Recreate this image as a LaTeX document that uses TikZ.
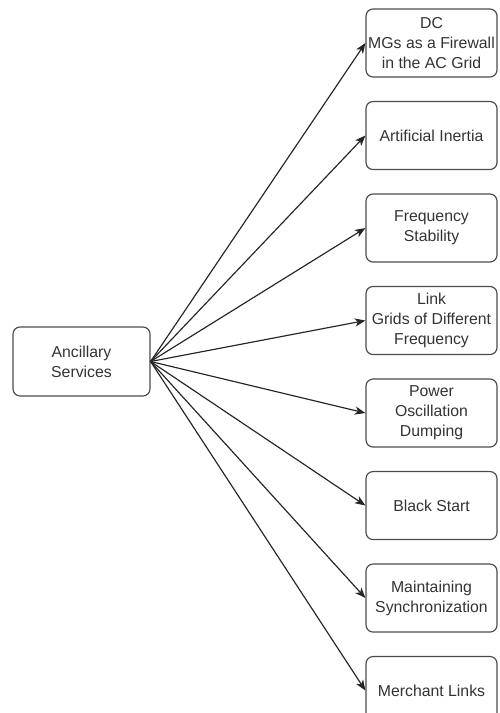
\documentclass[tikz,border=0pt]{standalone}
\usepackage{fontspec}
\setmainfont{Liberation Sans}
\usepackage{xcolor}
\usetikzlibrary{arrows.meta,positioning}

\begin{document}
\begin{tikzpicture}[
      x=0.03cm, y=-0.03cm,
      >={Stealth[length=9pt, width=7pt, inset=2.5pt]},
      box/.style={draw=black!70, rounded corners=6pt, line width=1pt,
        minimum width=3.93cm, minimum height=2.04cm, inner sep=1pt,
        align=center, text=black!80,
        font=\fontsize{13.5}{17}\selectfont},
      link/.style={->, line width=1pt, black!85}
    ]
    \useasboundingbox (0,0) rectangle (499,713);

    \node[box, minimum width=4.11cm, minimum height=2.07cm]
      (ancillary) at (81.5,361.5) {Ancillary\\Services};

    \node[box] (firewall) at (431.5,43)
      {DC\\MGs as a Firewall\\in the AC Grid};
    \node[box, below=0.7cm of firewall] (inertia) {Artificial Inertia};
    \node[box, below=0.7cm of inertia] (frequency) {Frequency\\Stability};
    \node[box, below=0.7cm of frequency] (gridlink)
      {Link\\Grids of Different\\Frequency};
    \node[box, below=0.7cm of gridlink] (oscillation)
      {Power\\Oscillation\\Dumping};
    \node[box, below=0.7cm of oscillation] (blackstart) {Black Start};
    \node[box, below=0.7cm of blackstart] (sync)
      {Maintaining\\Synchronization};
    \node[box, below=0.7cm of sync] (merchant) {Merchant Links};

    \draw[link] (ancillary.east) -- (firewall.west);
    \draw[link] (ancillary.east) -- (inertia.west);
    \draw[link] (ancillary.east) -- (frequency.west);
    \draw[link] (ancillary.east) -- (gridlink.west);
    \draw[link] (ancillary.east) -- (oscillation.west);
    \draw[link] (ancillary.east) -- (blackstart.west);
    \draw[link] (ancillary.east) -- (sync.west);
    \draw[link] (ancillary.east) -- (merchant.west);
  \end{tikzpicture}
\end{document}
